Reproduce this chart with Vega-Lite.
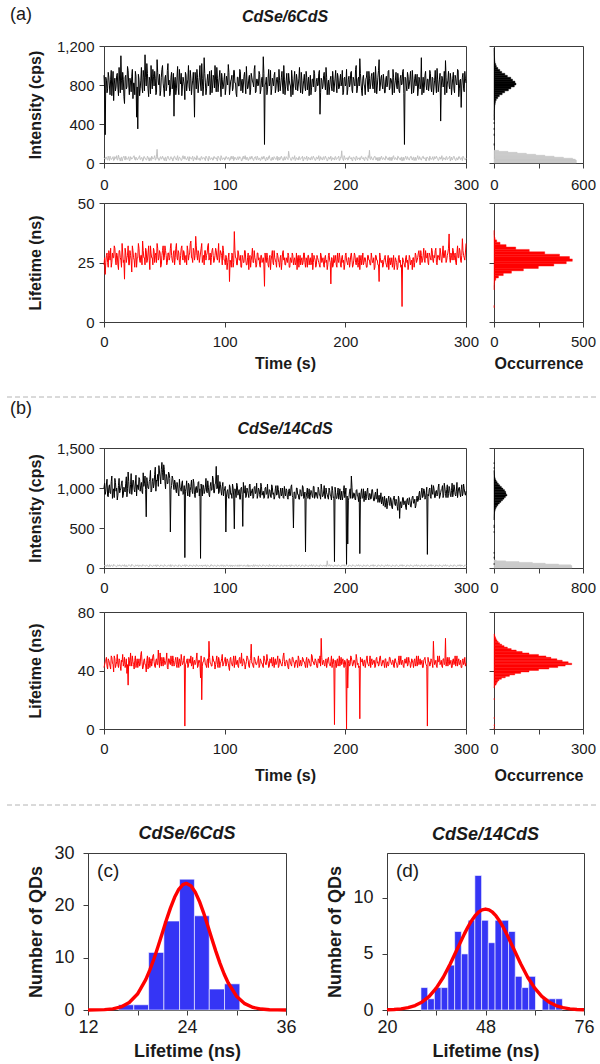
{
"$schema": "https://vega.github.io/schema/vega-lite/v6.json",
"padding": {"left": 5, "top": 5, "right": 5, "bottom": 5},
"background": "white",
"config": {
 "font": "Liberation Sans",
 "view": {"stroke": "#3c3c3c", "strokeWidth": 1},
 "axis": {"grid": false, "labelFont": "Liberation Sans", "labelFontSize": 15, "labelColor": "#1a1a1a", "labelFlush": false, "labelOverlap": false, "tickSize": 5, "tickColor": "#3c3c3c", "domainColor": "#3c3c3c", "titleFont": "Liberation Sans", "titleFontSize": 16, "titleFontWeight": "bold", "titleColor": "#1a1a1a"},
 "axisX": {"labelPadding": 7, "titlePadding": 6},
 "axisY": {"labelPadding": 5},
 "title": {"font": "Liberation Sans", "fontSize": 16, "fontWeight": "bold", "fontStyle": "italic", "color": "#1a1a1a"}
},
"datasets": {
"ts": [
{"t":0,"a":900,"g":55,"l":24,"b":1000,"h":25,"m":42},{"t":1,"a":290,"g":40,"l":20,"b":920,"h":35,"m":46},{"t":2,"a":850,"g":60,"l":28,"b":1050,"h":20,"m":49},{"t":3,"a":760,"g":30,"l":25,"b":900,"h":40,"m":41},{"t":4,"a":880,"g":50,"l":30,"b":1010,"h":28,"m":47},{"t":5,"a":700,"g":70,"l":26,"b":940,"h":15,"m":43},{"t":6,"a":950,"g":35,"l":23,"b":1080,"h":38,"m":50},{"t":7,"a":800,"g":55,"l":29,"b":870,"h":22,"m":45},{"t":8,"a":640,"g":25,"l":27,"b":990,"h":45,"m":39},{"t":9,"a":870,"g":65,"l":31,"b":1120,"h":30,"m":48},
{"t":10,"a":780,"g":45,"l":24,"b":960,"h":18,"m":44},{"t":11,"a":920,"g":30,"l":28,"b":850,"h":33,"m":51},{"t":12,"a":690,"g":80,"l":22,"b":1030,"h":27,"m":42},{"t":13,"a":840,"g":40,"l":30,"b":940,"h":40,"m":47},{"t":14,"a":1100,"g":55,"l":26,"b":1000,"h":20,"m":40},{"t":15,"a":750,"g":20,"l":33,"b":1090,"h":35,"m":46},{"t":16,"a":860,"g":60,"l":25,"b":910,"h":25,"m":43},{"t":17,"a":610,"g":45,"l":18,"b":980,"h":42,"m":49},{"t":18,"a":900,"g":70,"l":29,"b":1060,"h":30,"m":44},{"t":19,"a":780,"g":35,"l":27,"b":890,"h":15,"m":38},
{"t":20,"a":950,"g":50,"l":32,"b":1200,"h":28,"m":30},{"t":21,"a":700,"g":25,"l":24,"b":950,"h":38,"m":47},{"t":22,"a":830,"g":65,"l":28,"b":1040,"h":22,"m":52},{"t":23,"a":890,"g":40,"l":21,"b":920,"h":45,"m":43},{"t":24,"a":660,"g":55,"l":30,"b":1100,"h":30,"m":46},{"t":25,"a":820,"g":75,"l":26,"b":980,"h":20,"m":41},{"t":26,"a":940,"g":30,"l":29,"b":1050,"h":35,"m":50},{"t":27,"a":470,"g":50,"l":23,"b":900,"h":27,"m":45},{"t":28,"a":350,"g":40,"l":27,"b":1010,"h":40,"m":42},{"t":29,"a":860,"g":60,"l":31,"b":1130,"h":18,"m":48},
{"t":30,"a":760,"g":35,"l":25,"b":960,"h":32,"m":44},{"t":31,"a":980,"g":55,"l":28,"b":1070,"h":25,"m":53},{"t":32,"a":720,"g":20,"l":34,"b":930,"h":40,"m":41},{"t":33,"a":880,"g":65,"l":27,"b":1020,"h":30,"m":47},{"t":34,"a":1110,"g":45,"l":24,"b":1150,"h":22,"m":44},{"t":35,"a":790,"g":30,"l":30,"b":640,"h":36,"m":39},{"t":36,"a":920,"g":70,"l":26,"b":1060,"h":28,"m":50},{"t":37,"a":680,"g":40,"l":32,"b":990,"h":15,"m":45},{"t":38,"a":850,"g":55,"l":22,"b":1110,"h":42,"m":42},{"t":39,"a":1000,"g":25,"l":29,"b":950,"h":30,"m":48},
{"t":40,"a":760,"g":60,"l":27,"b":1080,"h":20,"m":46},{"t":41,"a":890,"g":45,"l":31,"b":1000,"h":35,"m":51},{"t":42,"a":940,"g":75,"l":25,"b":1170,"h":27,"m":43},{"t":43,"a":700,"g":35,"l":29,"b":960,"h":40,"m":47},{"t":44,"a":1060,"g":140,"l":33,"b":1090,"h":25,"m":44},{"t":45,"a":830,"g":50,"l":26,"b":1020,"h":33,"m":54},{"t":46,"a":910,"g":30,"l":30,"b":1200,"h":18,"m":42},{"t":47,"a":740,"g":65,"l":23,"b":1050,"h":38,"m":46},{"t":48,"a":960,"g":45,"l":28,"b":1320,"h":28,"m":49},{"t":49,"a":820,"g":55,"l":32,"b":1100,"h":22,"m":43},
{"t":50,"a":680,"g":25,"l":27,"b":1230,"h":40,"m":47},{"t":51,"a":900,"g":60,"l":30,"b":990,"h":30,"m":45},{"t":52,"a":780,"g":40,"l":24,"b":1140,"h":20,"m":52},{"t":53,"a":1020,"g":70,"l":29,"b":1060,"h":35,"m":41},{"t":54,"a":850,"g":35,"l":26,"b":1180,"h":27,"m":48},{"t":55,"a":720,"g":55,"l":31,"b":450,"h":42,"m":44},{"t":56,"a":930,"g":45,"l":28,"b":1030,"h":25,"m":46},{"t":57,"a":810,"g":20,"l":25,"b":1120,"h":32,"m":50},{"t":58,"a":480,"g":65,"l":30,"b":980,"h":18,"m":43},{"t":59,"a":880,"g":50,"l":27,"b":1070,"h":38,"m":47},
{"t":60,"a":760,"g":30,"l":33,"b":940,"h":28,"m":44},{"t":61,"a":990,"g":75,"l":26,"b":1040,"h":22,"m":49},{"t":62,"a":700,"g":40,"l":29,"b":900,"h":40,"m":42},{"t":63,"a":860,"g":55,"l":24,"b":1010,"h":30,"m":46},{"t":64,"a":920,"g":25,"l":31,"b":960,"h":15,"m":51},{"t":65,"a":780,"g":60,"l":27,"b":1090,"h":35,"m":44},{"t":66,"a":840,"g":45,"l":30,"b":930,"h":27,"m":47},{"t":67,"a":650,"g":70,"l":25,"b":130,"h":42,"m":2},{"t":68,"a":900,"g":35,"l":28,"b":1000,"h":25,"m":45},{"t":69,"a":810,"g":50,"l":32,"b":950,"h":33,"m":48},
{"t":70,"a":1000,"g":30,"l":26,"b":1060,"h":20,"m":43},{"t":71,"a":740,"g":65,"l":29,"b":890,"h":38,"m":46},{"t":72,"a":870,"g":45,"l":34,"b":1020,"h":28,"m":50},{"t":73,"a":790,"g":55,"l":27,"b":960,"h":22,"m":44},{"t":74,"a":930,"g":20,"l":31,"b":1110,"h":36,"m":41},{"t":75,"a":470,"g":60,"l":26,"b":920,"h":30,"m":47},{"t":76,"a":850,"g":40,"l":36,"b":1000,"h":18,"m":45},{"t":77,"a":960,"g":75,"l":28,"b":940,"h":40,"m":52},{"t":78,"a":720,"g":35,"l":30,"b":1070,"h":27,"m":43},{"t":79,"a":880,"g":50,"l":25,"b":900,"h":32,"m":47},
{"t":80,"a":800,"g":30,"l":29,"b":120,"h":25,"m":35},{"t":81,"a":1020,"g":65,"l":33,"b":980,"h":38,"m":20},{"t":82,"a":690,"g":45,"l":27,"b":1040,"h":22,"m":46},{"t":83,"a":1080,"g":55,"l":24,"b":930,"h":30,"m":49},{"t":84,"a":830,"g":25,"l":30,"b":1010,"h":40,"m":44},{"t":85,"a":760,"g":60,"l":28,"b":960,"h":15,"m":42},{"t":86,"a":910,"g":40,"l":32,"b":1090,"h":35,"m":48},{"t":87,"a":850,"g":70,"l":26,"b":920,"h":28,"m":60},{"t":88,"a":700,"g":35,"l":29,"b":1020,"h":20,"m":45},{"t":89,"a":950,"g":50,"l":27,"b":970,"h":42,"m":43},
{"t":90,"a":790,"g":30,"l":31,"b":1150,"h":30,"m":50},{"t":91,"a":880,"g":65,"l":25,"b":940,"h":25,"m":46},{"t":92,"a":1000,"g":45,"l":28,"b":1050,"h":35,"m":41},{"t":93,"a":730,"g":55,"l":30,"b":1270,"h":18,"m":47},{"t":94,"a":870,"g":20,"l":26,"b":1000,"h":38,"m":44},{"t":95,"a":810,"g":60,"l":33,"b":930,"h":28,"m":49},{"t":96,"a":950,"g":40,"l":27,"b":1080,"h":22,"m":42},{"t":97,"a":680,"g":75,"l":29,"b":960,"h":40,"m":46},{"t":98,"a":860,"g":35,"l":24,"b":1020,"h":30,"m":51},{"t":99,"a":790,"g":50,"l":30,"b":900,"h":20,"m":44},
{"t":100,"a":920,"g":30,"l":26,"b":990,"h":35,"m":47},{"t":101,"a":760,"g":65,"l":28,"b":450,"h":27,"m":43},{"t":102,"a":850,"g":45,"l":22,"b":960,"h":42,"m":48},{"t":103,"a":1010,"g":55,"l":27,"b":890,"h":25,"m":45},{"t":104,"a":700,"g":25,"l":17,"b":1040,"h":33,"m":40},{"t":105,"a":840,"g":60,"l":25,"b":920,"h":18,"m":49},{"t":106,"a":900,"g":40,"l":29,"b":870,"h":38,"m":44},{"t":107,"a":770,"g":70,"l":23,"b":1000,"h":28,"m":47},{"t":108,"a":950,"g":35,"l":38,"b":490,"h":22,"m":42},{"t":109,"a":820,"g":50,"l":27,"b":950,"h":36,"m":50},
{"t":110,"a":680,"g":30,"l":24,"b":1060,"h":30,"m":46},{"t":111,"a":880,"g":65,"l":30,"b":910,"h":18,"m":43},{"t":112,"a":790,"g":45,"l":26,"b":980,"h":40,"m":48},{"t":113,"a":940,"g":55,"l":28,"b":860,"h":27,"m":45},{"t":114,"a":830,"g":20,"l":23,"b":1010,"h":32,"m":52},{"t":115,"a":720,"g":60,"l":27,"b":520,"h":25,"m":44},{"t":116,"a":890,"g":40,"l":25,"b":940,"h":38,"m":47},{"t":117,"a":810,"g":75,"l":30,"b":1030,"h":22,"m":41},{"t":118,"a":990,"g":35,"l":24,"b":900,"h":30,"m":46},{"t":119,"a":760,"g":50,"l":27,"b":970,"h":40,"m":49},
{"t":120,"a":870,"g":30,"l":22,"b":880,"h":15,"m":43},{"t":121,"a":700,"g":65,"l":28,"b":1050,"h":35,"m":47},{"t":122,"a":920,"g":45,"l":26,"b":930,"h":28,"m":58},{"t":123,"a":840,"g":55,"l":31,"b":990,"h":20,"m":45},{"t":124,"a":780,"g":25,"l":25,"b":890,"h":42,"m":42},{"t":125,"a":1000,"g":60,"l":27,"b":1020,"h":30,"m":48},{"t":126,"a":730,"g":40,"l":23,"b":950,"h":25,"m":44},{"t":127,"a":860,"g":70,"l":29,"b":870,"h":35,"m":46},{"t":128,"a":800,"g":35,"l":26,"b":1000,"h":18,"m":50},{"t":129,"a":910,"g":50,"l":24,"b":920,"h":38,"m":43},
{"t":130,"a":750,"g":30,"l":28,"b":1060,"h":28,"m":47},{"t":131,"a":880,"g":65,"l":25,"b":910,"h":22,"m":45},{"t":132,"a":1090,"g":45,"l":27,"b":960,"h":40,"m":42},{"t":133,"a":190,"g":55,"l":15,"b":880,"h":30,"m":48},{"t":134,"a":820,"g":20,"l":26,"b":1010,"h":20,"m":44},{"t":135,"a":700,"g":60,"l":29,"b":930,"h":35,"m":51},{"t":136,"a":870,"g":40,"l":24,"b":870,"h":27,"m":46},{"t":137,"a":790,"g":75,"l":27,"b":980,"h":42,"m":43},{"t":138,"a":950,"g":35,"l":22,"b":900,"h":25,"m":47},{"t":139,"a":760,"g":50,"l":28,"b":1040,"h":33,"m":49},
{"t":140,"a":840,"g":30,"l":25,"b":920,"h":18,"m":44},{"t":141,"a":900,"g":65,"l":30,"b":860,"h":38,"m":42},{"t":142,"a":720,"g":45,"l":26,"b":990,"h":28,"m":48},{"t":143,"a":860,"g":55,"l":23,"b":910,"h":22,"m":45},{"t":144,"a":810,"g":25,"l":28,"b":1030,"h":36,"m":50},{"t":145,"a":960,"g":60,"l":25,"b":880,"h":30,"m":43},{"t":146,"a":740,"g":40,"l":27,"b":950,"h":18,"m":47},{"t":147,"a":880,"g":70,"l":22,"b":900,"h":40,"m":44},{"t":148,"a":790,"g":35,"l":29,"b":1000,"h":27,"m":46},{"t":149,"a":1000,"g":50,"l":26,"b":870,"h":32,"m":52},
{"t":150,"a":700,"g":30,"l":24,"b":940,"h":25,"m":43},{"t":151,"a":850,"g":65,"l":27,"b":990,"h":38,"m":47},{"t":152,"a":770,"g":45,"l":25,"b":880,"h":22,"m":45},{"t":153,"a":920,"g":120,"l":28,"b":960,"h":30,"m":41},{"t":154,"a":810,"g":55,"l":23,"b":900,"h":40,"m":48},{"t":155,"a":680,"g":25,"l":26,"b":1020,"h":20,"m":44},{"t":156,"a":870,"g":60,"l":29,"b":910,"h":35,"m":49},{"t":157,"a":790,"g":40,"l":24,"b":500,"h":28,"m":46},{"t":158,"a":940,"g":75,"l":27,"b":950,"h":22,"m":42},{"t":159,"a":750,"g":35,"l":25,"b":870,"h":42,"m":47},
{"t":160,"a":860,"g":50,"l":22,"b":1000,"h":30,"m":45},{"t":161,"a":800,"g":30,"l":28,"b":920,"h":25,"m":50},{"t":162,"a":980,"g":65,"l":26,"b":860,"h":35,"m":43},{"t":163,"a":720,"g":45,"l":24,"b":970,"h":18,"m":47},{"t":164,"a":850,"g":55,"l":27,"b":900,"h":38,"m":44},{"t":165,"a":780,"g":20,"l":25,"b":1010,"h":28,"m":48},{"t":166,"a":910,"g":60,"l":29,"b":880,"h":22,"m":46},{"t":167,"a":740,"g":40,"l":23,"b":200,"h":40,"m":42},{"t":168,"a":880,"g":70,"l":26,"b":940,"h":30,"m":49},{"t":169,"a":820,"g":35,"l":28,"b":870,"h":20,"m":45},
{"t":170,"a":690,"g":50,"l":24,"b":990,"h":35,"m":47},{"t":171,"a":900,"g":30,"l":27,"b":910,"h":27,"m":43},{"t":172,"a":770,"g":65,"l":25,"b":960,"h":42,"m":51},{"t":173,"a":860,"g":45,"l":22,"b":880,"h":25,"m":46},{"t":174,"a":950,"g":55,"l":28,"b":1020,"h":33,"m":44},{"t":175,"a":730,"g":25,"l":26,"b":900,"h":18,"m":48},{"t":176,"a":840,"g":60,"l":24,"b":940,"h":38,"m":45},{"t":177,"a":790,"g":40,"l":27,"b":870,"h":28,"m":42},{"t":178,"a":920,"g":75,"l":25,"b":980,"h":22,"m":47},{"t":179,"a":500,"g":35,"l":23,"b":910,"h":40,"m":50},
{"t":180,"a":870,"g":50,"l":28,"b":1050,"h":30,"m":62},{"t":181,"a":760,"g":30,"l":26,"b":890,"h":25,"m":44},{"t":182,"a":900,"g":65,"l":24,"b":950,"h":35,"m":47},{"t":183,"a":810,"g":45,"l":27,"b":870,"h":20,"m":43},{"t":184,"a":980,"g":55,"l":25,"b":1000,"h":38,"m":48},{"t":185,"a":700,"g":20,"l":22,"b":920,"h":90,"m":45},{"t":186,"a":850,"g":60,"l":28,"b":860,"h":27,"m":49},{"t":187,"a":780,"g":40,"l":26,"b":970,"h":42,"m":44},{"t":188,"a":890,"g":70,"l":16,"b":900,"h":25,"m":46},{"t":189,"a":740,"g":35,"l":27,"b":1020,"h":32,"m":42},
{"t":190,"a":860,"g":50,"l":24,"b":880,"h":18,"m":48},{"t":191,"a":800,"g":30,"l":25,"b":80,"h":38,"m":3},{"t":192,"a":950,"g":65,"l":28,"b":940,"h":28,"m":45},{"t":193,"a":720,"g":45,"l":23,"b":870,"h":22,"m":47},{"t":194,"a":880,"g":55,"l":26,"b":1000,"h":40,"m":43},{"t":195,"a":770,"g":25,"l":29,"b":910,"h":30,"m":50},{"t":196,"a":910,"g":60,"l":24,"b":850,"h":20,"m":46},{"t":197,"a":830,"g":125,"l":27,"b":960,"h":35,"m":44},{"t":198,"a":700,"g":40,"l":25,"b":890,"h":27,"m":48},{"t":199,"a":870,"g":75,"l":22,"b":1030,"h":42,"m":42},
{"t":200,"a":790,"g":35,"l":28,"b":920,"h":25,"m":46},{"t":201,"a":960,"g":50,"l":26,"b":45,"h":33,"m":0},{"t":202,"a":750,"g":30,"l":24,"b":300,"h":18,"m":28},{"t":203,"a":890,"g":65,"l":27,"b":880,"h":38,"m":47},{"t":204,"a":810,"g":45,"l":25,"b":990,"h":28,"m":44},{"t":205,"a":940,"g":55,"l":29,"b":1150,"h":22,"m":49},{"t":206,"a":720,"g":20,"l":23,"b":870,"h":40,"m":43},{"t":207,"a":860,"g":60,"l":26,"b":940,"h":30,"m":47},{"t":208,"a":790,"g":40,"l":28,"b":860,"h":20,"m":45},{"t":209,"a":1000,"g":70,"l":24,"b":970,"h":35,"m":51},
{"t":210,"a":760,"g":35,"l":27,"b":900,"h":27,"m":44},{"t":211,"a":880,"g":50,"l":25,"b":830,"h":42,"m":42},{"t":212,"a":1070,"g":30,"l":22,"b":180,"h":25,"m":7},{"t":213,"a":820,"g":65,"l":28,"b":940,"h":32,"m":46},{"t":214,"a":690,"g":45,"l":26,"b":870,"h":18,"m":48},{"t":215,"a":900,"g":55,"l":24,"b":990,"h":38,"m":43},{"t":216,"a":780,"g":25,"l":27,"b":910,"h":28,"m":47},{"t":217,"a":860,"g":60,"l":25,"b":850,"h":22,"m":45},{"t":218,"a":940,"g":40,"l":23,"b":960,"h":40,"m":50},{"t":219,"a":730,"g":75,"l":28,"b":880,"h":30,"m":44},
{"t":220,"a":870,"g":130,"l":26,"b":930,"h":20,"m":46},{"t":221,"a":800,"g":35,"l":24,"b":860,"h":35,"m":42},{"t":222,"a":920,"g":50,"l":27,"b":980,"h":27,"m":48},{"t":223,"a":760,"g":30,"l":25,"b":900,"h":42,"m":45},{"t":224,"a":850,"g":65,"l":22,"b":840,"h":25,"m":47},{"t":225,"a":990,"g":45,"l":28,"b":950,"h":33,"m":43},{"t":226,"a":710,"g":55,"l":26,"b":870,"h":18,"m":49},{"t":227,"a":880,"g":20,"l":24,"b":820,"h":38,"m":46},{"t":228,"a":1060,"g":60,"l":17,"b":910,"h":28,"m":44},{"t":229,"a":790,"g":40,"l":27,"b":860,"h":22,"m":50},
{"t":230,"a":900,"g":70,"l":25,"b":800,"h":40,"m":43},{"t":231,"a":760,"g":35,"l":23,"b":890,"h":30,"m":47},{"t":232,"a":840,"g":50,"l":26,"b":830,"h":20,"m":45},{"t":233,"a":720,"g":30,"l":28,"b":760,"h":35,"m":48},{"t":234,"a":890,"g":65,"l":24,"b":870,"h":27,"m":42},{"t":235,"a":810,"g":45,"l":26,"b":810,"h":42,"m":46},{"t":236,"a":950,"g":55,"l":22,"b":900,"h":25,"m":44},{"t":237,"a":770,"g":25,"l":27,"b":780,"h":33,"m":49},{"t":238,"a":860,"g":60,"l":25,"b":850,"h":18,"m":45},{"t":239,"a":700,"g":40,"l":23,"b":740,"h":38,"m":47},
{"t":240,"a":880,"g":75,"l":28,"b":880,"h":28,"m":43},{"t":241,"a":800,"g":35,"l":24,"b":800,"h":22,"m":48},{"t":242,"a":930,"g":50,"l":26,"b":860,"h":40,"m":45},{"t":243,"a":760,"g":30,"l":22,"b":770,"h":30,"m":42},{"t":244,"a":850,"g":65,"l":27,"b":900,"h":20,"m":47},{"t":245,"a":720,"g":45,"l":25,"b":620,"h":35,"m":44},{"t":246,"a":900,"g":55,"l":23,"b":830,"h":27,"m":50},{"t":247,"a":810,"g":20,"l":6.5,"b":790,"h":42,"m":46},{"t":248,"a":960,"g":60,"l":26,"b":880,"h":25,"m":43},{"t":249,"a":190,"g":40,"l":24,"b":810,"h":33,"m":47},
{"t":250,"a":870,"g":70,"l":27,"b":760,"h":18,"m":45},{"t":251,"a":740,"g":35,"l":25,"b":850,"h":38,"m":49},{"t":252,"a":890,"g":50,"l":22,"b":800,"h":28,"m":44},{"t":253,"a":800,"g":30,"l":28,"b":880,"h":22,"m":46},{"t":254,"a":940,"g":65,"l":24,"b":770,"h":40,"m":42},{"t":255,"a":710,"g":45,"l":26,"b":840,"h":30,"m":48},{"t":256,"a":860,"g":55,"l":27,"b":900,"h":20,"m":45},{"t":257,"a":780,"g":25,"l":23,"b":810,"h":35,"m":47},{"t":258,"a":910,"g":60,"l":29,"b":750,"h":27,"m":43},{"t":259,"a":830,"g":40,"l":25,"b":870,"h":42,"m":50},
{"t":260,"a":690,"g":75,"l":27,"b":830,"h":25,"m":46},{"t":261,"a":880,"g":35,"l":30,"b":920,"h":33,"m":44},{"t":262,"a":760,"g":50,"l":24,"b":850,"h":18,"m":48},{"t":263,"a":1080,"g":30,"l":28,"b":950,"h":38,"m":45},{"t":264,"a":810,"g":65,"l":26,"b":880,"h":28,"m":42},{"t":265,"a":720,"g":45,"l":31,"b":990,"h":22,"m":47},{"t":266,"a":900,"g":55,"l":25,"b":860,"h":40,"m":49},{"t":267,"a":790,"g":20,"l":27,"b":940,"h":30,"m":44},{"t":268,"a":860,"g":60,"l":29,"b":170,"h":20,"m":2},{"t":269,"a":740,"g":40,"l":24,"b":900,"h":35,"m":46},
{"t":270,"a":950,"g":70,"l":28,"b":1000,"h":27,"m":43},{"t":271,"a":770,"g":35,"l":26,"b":870,"h":42,"m":48},{"t":272,"a":880,"g":50,"l":30,"b":950,"h":25,"m":45},{"t":273,"a":700,"g":30,"l":25,"b":1030,"h":33,"m":60},{"t":274,"a":850,"g":65,"l":27,"b":880,"h":18,"m":44},{"t":275,"a":800,"g":45,"l":31,"b":960,"h":38,"m":47},{"t":276,"a":970,"g":55,"l":24,"b":900,"h":28,"m":42},{"t":277,"a":730,"g":25,"l":28,"b":1010,"h":22,"m":46},{"t":278,"a":860,"g":60,"l":26,"b":870,"h":40,"m":50},{"t":279,"a":430,"g":40,"l":29,"b":940,"h":30,"m":45},
{"t":280,"a":890,"g":75,"l":25,"b":990,"h":20,"m":43},{"t":281,"a":780,"g":35,"l":32,"b":880,"h":35,"m":48},{"t":282,"a":940,"g":50,"l":27,"b":1060,"h":27,"m":44},{"t":283,"a":1050,"g":30,"l":30,"b":930,"h":42,"m":62},{"t":284,"a":720,"g":65,"l":26,"b":980,"h":25,"m":46},{"t":285,"a":850,"g":45,"l":29,"b":880,"h":33,"m":43},{"t":286,"a":790,"g":55,"l":37,"b":1020,"h":18,"m":49},{"t":287,"a":920,"g":20,"l":25,"b":910,"h":38,"m":45},{"t":288,"a":700,"g":60,"l":28,"b":970,"h":28,"m":42},{"t":289,"a":870,"g":40,"l":31,"b":890,"h":22,"m":47},
{"t":290,"a":760,"g":70,"l":26,"b":1040,"h":40,"m":44},{"t":291,"a":900,"g":35,"l":29,"b":920,"h":30,"m":50},{"t":292,"a":810,"g":50,"l":24,"b":960,"h":20,"m":46},{"t":293,"a":960,"g":30,"l":32,"b":880,"h":35,"m":43},{"t":294,"a":680,"g":65,"l":27,"b":1000,"h":27,"m":48},{"t":295,"a":850,"g":45,"l":30,"b":930,"h":42,"m":45},{"t":296,"a":570,"g":55,"l":25,"b":980,"h":25,"m":42},{"t":297,"a":880,"g":25,"l":35,"b":900,"h":33,"m":47},{"t":298,"a":760,"g":60,"l":28,"b":1050,"h":18,"m":44},{"t":299,"a":940,"g":40,"l":26,"b":940,"h":38,"m":49},
{"t":300,"a":820,"g":50,"l":33,"b":960,"h":28,"m":45},
{"t":0.5,"a":760,"g":45,"l":27,"b":1060,"h":30,"m":44},{"t":1.5,"a":880,"g":60,"l":25,"b":960,"h":22,"m":47},{"t":2.5,"a":720,"g":35,"l":29,"b":1110,"h":38,"m":43},{"t":3.5,"a":930,"g":70,"l":23,"b":890,"h":18,"m":48},{"t":4.5,"a":790,"g":25,"l":28,"b":1040,"h":42,"m":45},{"t":5.5,"a":860,"g":55,"l":31,"b":930,"h":26,"m":41},{"t":6.5,"a":690,"g":40,"l":25,"b":1150,"h":33,"m":49},{"t":7.5,"a":940,"g":65,"l":27,"b":960,"h":20,"m":44},{"t":8.5,"a":810,"g":30,"l":32,"b":880,"h":36,"m":50},{"t":9.5,"a":740,"g":50,"l":26,"b":1070,"h":28,"m":42},
{"t":10.5,"a":900,"g":75,"l":29,"b":1000,"h":15,"m":46},{"t":11.5,"a":770,"g":35,"l":24,"b":910,"h":40,"m":44},{"t":12.5,"a":980,"g":55,"l":30,"b":1120,"h":25,"m":48},{"t":13.5,"a":720,"g":20,"l":27,"b":970,"h":33,"m":43},{"t":14.5,"a":850,"g":60,"l":23,"b":1060,"h":21,"m":47},{"t":15.5,"a":930,"g":45,"l":29,"b":880,"h":38,"m":51},{"t":16.5,"a":680,"g":70,"l":26,"b":1010,"h":27,"m":45},{"t":17.5,"a":880,"g":30,"l":31,"b":950,"h":17,"m":42},{"t":18.5,"a":760,"g":50,"l":25,"b":1140,"h":35,"m":48},{"t":19.5,"a":990,"g":40,"l":28,"b":990,"h":24,"m":44},
{"t":20.5,"a":800,"g":65,"l":24,"b":1080,"h":41,"m":49},{"t":21.5,"a":870,"g":25,"l":30,"b":930,"h":29,"m":43},{"t":22.5,"a":730,"g":55,"l":26,"b":1180,"h":20,"m":46},{"t":23.5,"a":960,"g":45,"l":32,"b":1000,"h":37,"m":50},{"t":24.5,"a":820,"g":70,"l":27,"b":1090,"h":26,"m":44},{"t":25.5,"a":700,"g":35,"l":23,"b":950,"h":16,"m":47},{"t":26.5,"a":890,"g":60,"l":29,"b":1160,"h":39,"m":42},{"t":27.5,"a":780,"g":30,"l":27,"b":1040,"h":28,"m":48},{"t":28.5,"a":910,"g":50,"l":33,"b":980,"h":22,"m":45},{"t":29.5,"a":690,"g":75,"l":26,"b":1110,"h":34,"m":43},
{"t":30.5,"a":850,"g":40,"l":28,"b":1030,"h":27,"m":51},{"t":31.5,"a":780,"g":55,"l":24,"b":950,"h":19,"m":46},{"t":32.5,"a":950,"g":25,"l":30,"b":1190,"h":40,"m":42},{"t":33.5,"a":740,"g":65,"l":27,"b":1060,"h":30,"m":48},{"t":34.5,"a":880,"g":45,"l":31,"b":980,"h":23,"m":44},{"t":35.5,"a":1020,"g":35,"l":25,"b":1130,"h":36,"m":47},{"t":36.5,"a":760,"g":60,"l":29,"b":1000,"h":25,"m":41},{"t":37.5,"a":880,"g":20,"l":26,"b":1080,"h":18,"m":49},{"t":38.5,"a":710,"g":50,"l":32,"b":1220,"h":38,"m":45},{"t":39.5,"a":840,"g":70,"l":27,"b":970,"h":28,"m":43},
{"t":40.5,"a":960,"g":40,"l":24,"b":1120,"h":21,"m":50},{"t":41.5,"a":790,"g":55,"l":30,"b":1050,"h":35,"m":46},{"t":42.5,"a":870,"g":30,"l":28,"b":1260,"h":26,"m":42},{"t":43.5,"a":720,"g":65,"l":25,"b":1100,"h":17,"m":48},{"t":44.5,"a":930,"g":45,"l":31,"b":1170,"h":40,"m":44},{"t":45.5,"a":800,"g":25,"l":27,"b":1280,"h":29,"m":47},{"t":46.5,"a":690,"g":60,"l":29,"b":1140,"h":22,"m":52},{"t":47.5,"a":880,"g":40,"l":24,"b":1230,"h":37,"m":43},{"t":48.5,"a":1000,"g":70,"l":30,"b":1190,"h":27,"m":46},{"t":49.5,"a":760,"g":35,"l":26,"b":1290,"h":18,"m":49},
{"t":50.5,"a":870,"g":55,"l":32,"b":1080,"h":39,"m":44},{"t":51.5,"a":740,"g":20,"l":28,"b":1170,"h":28,"m":47},{"t":52.5,"a":950,"g":60,"l":25,"b":1050,"h":23,"m":42},{"t":53.5,"a":800,"g":45,"l":29,"b":1200,"h":34,"m":48},{"t":54.5,"a":690,"g":30,"l":27,"b":1120,"h":26,"m":45},{"t":55.5,"a":880,"g":65,"l":33,"b":980,"h":16,"m":50},{"t":56.5,"a":760,"g":50,"l":26,"b":1150,"h":40,"m":43},{"t":57.5,"a":920,"g":35,"l":29,"b":1040,"h":29,"m":47},{"t":58.5,"a":830,"g":70,"l":24,"b":1100,"h":21,"m":44},{"t":59.5,"a":700,"g":40,"l":31,"b":980,"h":36,"m":49},
{"t":60.5,"a":880,"g":55,"l":27,"b":1070,"h":25,"m":42},{"t":61.5,"a":770,"g":25,"l":30,"b":940,"h":18,"m":46},{"t":62.5,"a":960,"g":60,"l":25,"b":1110,"h":38,"m":48},{"t":63.5,"a":810,"g":45,"l":28,"b":990,"h":27,"m":43},{"t":64.5,"a":690,"g":30,"l":32,"b":1060,"h":22,"m":47},{"t":65.5,"a":880,"g":75,"l":26,"b":920,"h":35,"m":45},{"t":66.5,"a":790,"g":40,"l":29,"b":1030,"h":28,"m":50},{"t":67.5,"a":930,"g":55,"l":27,"b":960,"h":17,"m":44},{"t":68.5,"a":740,"g":35,"l":24,"b":1090,"h":39,"m":47},{"t":69.5,"a":860,"g":65,"l":30,"b":900,"h":26,"m":42},
{"t":70.5,"a":780,"g":20,"l":28,"b":1040,"h":21,"m":48},{"t":71.5,"a":950,"g":50,"l":33,"b":970,"h":37,"m":45},{"t":72.5,"a":700,"g":40,"l":27,"b":1100,"h":29,"m":43},{"t":73.5,"a":850,"g":70,"l":25,"b":930,"h":19,"m":49},{"t":74.5,"a":790,"g":35,"l":30,"b":1060,"h":36,"m":46},{"t":75.5,"a":930,"g":55,"l":28,"b":880,"h":25,"m":44},{"t":76.5,"a":760,"g":30,"l":32,"b":1020,"h":40,"m":48},{"t":77.5,"a":880,"g":60,"l":26,"b":950,"h":28,"m":42},{"t":78.5,"a":810,"g":45,"l":29,"b":1080,"h":20,"m":47},{"t":79.5,"a":1000,"g":25,"l":27,"b":990,"h":34,"m":45},
{"t":80.5,"a":740,"g":65,"l":31,"b":1050,"h":26,"m":50},{"t":81.5,"a":870,"g":40,"l":25,"b":900,"h":18,"m":43},{"t":82.5,"a":780,"g":55,"l":28,"b":1030,"h":38,"m":46},{"t":83.5,"a":920,"g":35,"l":30,"b":960,"h":27,"m":48},{"t":84.5,"a":700,"g":70,"l":26,"b":1120,"h":22,"m":44},{"t":85.5,"a":850,"g":45,"l":29,"b":940,"h":35,"m":47},{"t":86.5,"a":790,"g":20,"l":33,"b":1010,"h":29,"m":42},{"t":87.5,"a":940,"g":60,"l":27,"b":890,"h":17,"m":49},{"t":88.5,"a":820,"g":40,"l":24,"b":1070,"h":39,"m":45},{"t":89.5,"a":720,"g":55,"l":30,"b":980,"h":26,"m":43},
{"t":90.5,"a":900,"g":30,"l":28,"b":1110,"h":21,"m":48},{"t":91.5,"a":770,"g":65,"l":26,"b":940,"h":36,"m":46},{"t":92.5,"a":850,"g":50,"l":31,"b":1060,"h":28,"m":44},{"t":93.5,"a":980,"g":35,"l":27,"b":990,"h":19,"m":50},{"t":94.5,"a":730,"g":70,"l":29,"b":1160,"h":37,"m":42},{"t":95.5,"a":880,"g":45,"l":25,"b":950,"h":25,"m":47},{"t":96.5,"a":790,"g":25,"l":30,"b":1040,"h":32,"m":45},{"t":97.5,"a":920,"g":60,"l":28,"b":910,"h":22,"m":48},{"t":98.5,"a":760,"g":40,"l":32,"b":1070,"h":40,"m":43},{"t":99.5,"a":860,"g":55,"l":26,"b":960,"h":27,"m":46},
{"t":100.5,"a":700,"g":35,"l":24,"b":1020,"h":18,"m":49},{"t":101.5,"a":890,"g":65,"l":27,"b":900,"h":35,"m":44},{"t":102.5,"a":800,"g":40,"l":25,"b":980,"h":28,"m":47},{"t":103.5,"a":930,"g":55,"l":29,"b":870,"h":21,"m":42},{"t":104.5,"a":770,"g":30,"l":26,"b":1010,"h":38,"m":48},{"t":105.5,"a":860,"g":70,"l":23,"b":930,"h":26,"m":45},{"t":106.5,"a":740,"g":45,"l":28,"b":1050,"h":17,"m":43},{"t":107.5,"a":950,"g":25,"l":25,"b":900,"h":37,"m":50},{"t":108.5,"a":820,"g":60,"l":30,"b":990,"h":29,"m":46},{"t":109.5,"a":710,"g":40,"l":27,"b":880,"h":22,"m":44},
{"t":110.5,"a":880,"g":55,"l":24,"b":1030,"h":36,"m":47},{"t":111.5,"a":790,"g":35,"l":29,"b":950,"h":27,"m":42},{"t":112.5,"a":960,"g":65,"l":26,"b":860,"h":20,"m":49},{"t":113.5,"a":740,"g":45,"l":23,"b":1000,"h":39,"m":45},{"t":114.5,"a":860,"g":30,"l":28,"b":920,"h":28,"m":43},{"t":115.5,"a":800,"g":70,"l":25,"b":1070,"h":23,"m":48},{"t":116.5,"a":930,"g":50,"l":30,"b":940,"h":34,"m":46},{"t":117.5,"a":710,"g":35,"l":26,"b":880,"h":26,"m":44},{"t":118.5,"a":850,"g":60,"l":24,"b":1000,"h":19,"m":50},{"t":119.5,"a":780,"g":25,"l":29,"b":930,"h":38,"m":47},
{"t":120.5,"a":900,"g":55,"l":27,"b":1040,"h":28,"m":42},{"t":121.5,"a":750,"g":40,"l":23,"b":900,"h":22,"m":48},{"t":122.5,"a":880,"g":70,"l":28,"b":970,"h":35,"m":45},{"t":123.5,"a":820,"g":35,"l":25,"b":870,"h":27,"m":43},{"t":124.5,"a":960,"g":50,"l":30,"b":1010,"h":18,"m":49},{"t":125.5,"a":720,"g":65,"l":26,"b":930,"h":40,"m":46},{"t":126.5,"a":860,"g":30,"l":24,"b":1060,"h":29,"m":44},{"t":127.5,"a":790,"g":55,"l":29,"b":910,"h":21,"m":47},{"t":128.5,"a":940,"g":45,"l":27,"b":980,"h":36,"m":42},{"t":129.5,"a":710,"g":25,"l":23,"b":880,"h":27,"m":48},
{"t":130.5,"a":850,"g":60,"l":28,"b":1020,"h":20,"m":45},{"t":131.5,"a":780,"g":40,"l":26,"b":940,"h":38,"m":43},{"t":132.5,"a":920,"g":70,"l":24,"b":870,"h":28,"m":50},{"t":133.5,"a":800,"g":35,"l":29,"b":1000,"h":23,"m":46},{"t":134.5,"a":880,"g":55,"l":25,"b":920,"h":35,"m":44},{"t":135.5,"a":750,"g":30,"l":27,"b":1050,"h":26,"m":47},{"t":136.5,"a":960,"g":65,"l":23,"b":900,"h":18,"m":42},{"t":137.5,"a":820,"g":45,"l":28,"b":970,"h":39,"m":48},{"t":138.5,"a":700,"g":25,"l":26,"b":880,"h":28,"m":45},{"t":139.5,"a":870,"g":60,"l":30,"b":1010,"h":22,"m":43},
{"t":140.5,"a":790,"g":40,"l":24,"b":940,"h":36,"m":49},{"t":141.5,"a":930,"g":55,"l":27,"b":890,"h":27,"m":46},{"t":142.5,"a":760,"g":35,"l":25,"b":1030,"h":19,"m":44},{"t":143.5,"a":880,"g":70,"l":29,"b":920,"h":38,"m":47},{"t":144.5,"a":730,"g":45,"l":26,"b":980,"h":28,"m":42},{"t":145.5,"a":850,"g":30,"l":23,"b":870,"h":22,"m":48},{"t":146.5,"a":800,"g":60,"l":28,"b":1000,"h":35,"m":45},{"t":147.5,"a":940,"g":50,"l":25,"b":930,"h":27,"m":43},{"t":148.5,"a":710,"g":25,"l":30,"b":880,"h":18,"m":50},{"t":149.5,"a":860,"g":65,"l":27,"b":1020,"h":37,"m":46},
{"t":150.5,"a":780,"g":40,"l":24,"b":900,"h":29,"m":44},{"t":151.5,"a":920,"g":55,"l":26,"b":970,"h":21,"m":47},{"t":152.5,"a":740,"g":35,"l":29,"b":860,"h":36,"m":42},{"t":153.5,"a":850,"g":70,"l":23,"b":990,"h":27,"m":48},{"t":154.5,"a":790,"g":45,"l":27,"b":910,"h":20,"m":45},{"t":155.5,"a":950,"g":30,"l":25,"b":1040,"h":39,"m":43},{"t":156.5,"a":700,"g":60,"l":28,"b":880,"h":28,"m":49},{"t":157.5,"a":860,"g":45,"l":26,"b":950,"h":23,"m":46},{"t":158.5,"a":780,"g":25,"l":24,"b":870,"h":34,"m":44},{"t":159.5,"a":910,"g":55,"l":29,"b":1000,"h":26,"m":47},
{"t":160.5,"a":740,"g":40,"l":27,"b":920,"h":18,"m":42},{"t":161.5,"a":870,"g":65,"l":23,"b":860,"h":38,"m":48},{"t":162.5,"a":800,"g":35,"l":28,"b":980,"h":28,"m":45},{"t":163.5,"a":930,"g":50,"l":26,"b":900,"h":22,"m":43},{"t":164.5,"a":710,"g":70,"l":24,"b":1030,"h":35,"m":49},{"t":165.5,"a":850,"g":30,"l":29,"b":870,"h":27,"m":46},{"t":166.5,"a":780,"g":55,"l":25,"b":950,"h":19,"m":44},{"t":167.5,"a":940,"g":45,"l":27,"b":880,"h":37,"m":47},{"t":168.5,"a":750,"g":25,"l":23,"b":1000,"h":29,"m":42},{"t":169.5,"a":880,"g":60,"l":28,"b":920,"h":21,"m":48},
{"t":170.5,"a":810,"g":40,"l":26,"b":860,"h":36,"m":45},{"t":171.5,"a":700,"g":55,"l":24,"b":970,"h":28,"m":43},{"t":172.5,"a":860,"g":35,"l":29,"b":900,"h":20,"m":50},{"t":173.5,"a":780,"g":70,"l":25,"b":1020,"h":39,"m":46},{"t":174.5,"a":920,"g":45,"l":27,"b":870,"h":27,"m":44},{"t":175.5,"a":740,"g":30,"l":23,"b":950,"h":22,"m":47},{"t":176.5,"a":870,"g":60,"l":28,"b":890,"h":35,"m":42},{"t":177.5,"a":800,"g":50,"l":26,"b":1010,"h":26,"m":48},{"t":178.5,"a":950,"g":25,"l":24,"b":910,"h":18,"m":45},{"t":179.5,"a":720,"g":65,"l":29,"b":860,"h":38,"m":43},
{"t":180.5,"a":850,"g":40,"l":25,"b":980,"h":28,"m":49},{"t":181.5,"a":790,"g":55,"l":27,"b":900,"h":23,"m":46},{"t":182.5,"a":930,"g":35,"l":23,"b":1030,"h":34,"m":44},{"t":183.5,"a":750,"g":70,"l":28,"b":870,"h":26,"m":47},{"t":184.5,"a":880,"g":45,"l":26,"b":940,"h":19,"m":42},{"t":185.5,"a":810,"g":30,"l":24,"b":880,"h":37,"m":48},{"t":186.5,"a":700,"g":60,"l":29,"b":1000,"h":28,"m":45},{"t":187.5,"a":860,"g":45,"l":25,"b":910,"h":21,"m":43},{"t":188.5,"a":780,"g":25,"l":27,"b":850,"h":36,"m":50},{"t":189.5,"a":940,"g":55,"l":23,"b":970,"h":27,"m":46},
{"t":190.5,"a":730,"g":40,"l":28,"b":890,"h":20,"m":44},{"t":191.5,"a":870,"g":65,"l":26,"b":1010,"h":39,"m":47},{"t":192.5,"a":800,"g":35,"l":24,"b":870,"h":29,"m":42},{"t":193.5,"a":920,"g":50,"l":29,"b":940,"h":22,"m":48},{"t":194.5,"a":760,"g":70,"l":25,"b":860,"h":35,"m":45},{"t":195.5,"a":850,"g":30,"l":27,"b":990,"h":26,"m":43},{"t":196.5,"a":790,"g":55,"l":23,"b":900,"h":18,"m":49},{"t":197.5,"a":950,"g":45,"l":28,"b":850,"h":38,"m":46},{"t":198.5,"a":720,"g":25,"l":26,"b":970,"h":28,"m":44},{"t":199.5,"a":880,"g":60,"l":24,"b":880,"h":23,"m":47},
{"t":200.5,"a":810,"g":40,"l":29,"b":1000,"h":34,"m":42},{"t":201.5,"a":700,"g":55,"l":25,"b":900,"h":26,"m":48},{"t":202.5,"a":860,"g":35,"l":27,"b":840,"h":19,"m":45},{"t":203.5,"a":780,"g":70,"l":23,"b":960,"h":37,"m":43},{"t":204.5,"a":930,"g":45,"l":28,"b":870,"h":28,"m":50},{"t":205.5,"a":750,"g":30,"l":26,"b":1010,"h":21,"m":46},{"t":206.5,"a":880,"g":60,"l":24,"b":880,"h":36,"m":44},{"t":207.5,"a":800,"g":50,"l":29,"b":930,"h":27,"m":47},{"t":208.5,"a":960,"g":25,"l":25,"b":850,"h":20,"m":42},{"t":209.5,"a":720,"g":65,"l":27,"b":980,"h":39,"m":48},
{"t":210.5,"a":860,"g":40,"l":23,"b":890,"h":29,"m":45},{"t":211.5,"a":790,"g":55,"l":28,"b":940,"h":22,"m":43},{"t":212.5,"a":920,"g":35,"l":26,"b":860,"h":35,"m":49},{"t":213.5,"a":740,"g":70,"l":24,"b":990,"h":26,"m":46},{"t":214.5,"a":870,"g":45,"l":29,"b":880,"h":18,"m":44},{"t":215.5,"a":810,"g":30,"l":25,"b":830,"h":38,"m":47},{"t":216.5,"a":700,"g":60,"l":27,"b":960,"h":28,"m":42},{"t":217.5,"a":880,"g":45,"l":23,"b":890,"h":23,"m":48},{"t":218.5,"a":780,"g":25,"l":28,"b":1000,"h":34,"m":45},{"t":219.5,"a":940,"g":55,"l":26,"b":850,"h":26,"m":43},
{"t":220.5,"a":760,"g":40,"l":24,"b":930,"h":19,"m":50},{"t":221.5,"a":890,"g":65,"l":29,"b":870,"h":37,"m":46},{"t":222.5,"a":800,"g":35,"l":25,"b":980,"h":28,"m":44},{"t":223.5,"a":930,"g":50,"l":27,"b":840,"h":21,"m":47},{"t":224.5,"a":720,"g":70,"l":23,"b":920,"h":36,"m":42},{"t":225.5,"a":860,"g":30,"l":28,"b":860,"h":27,"m":48},{"t":226.5,"a":790,"g":55,"l":26,"b":990,"h":20,"m":45},{"t":227.5,"a":950,"g":45,"l":24,"b":880,"h":39,"m":43},{"t":228.5,"a":740,"g":25,"l":29,"b":820,"h":29,"m":49},{"t":229.5,"a":870,"g":60,"l":25,"b":940,"h":22,"m":46},
{"t":230.5,"a":800,"g":40,"l":26,"b":840,"h":35,"m":44},{"t":231.5,"a":910,"g":55,"l":24,"b":780,"h":26,"m":47},{"t":232.5,"a":720,"g":35,"l":27,"b":900,"h":18,"m":42},{"t":233.5,"a":860,"g":70,"l":25,"b":820,"h":38,"m":48},{"t":234.5,"a":780,"g":45,"l":23,"b":740,"h":28,"m":45},{"t":235.5,"a":940,"g":30,"l":28,"b":860,"h":23,"m":43},{"t":236.5,"a":750,"g":60,"l":26,"b":790,"h":34,"m":49},{"t":237.5,"a":870,"g":50,"l":24,"b":880,"h":26,"m":46},{"t":238.5,"a":810,"g":25,"l":27,"b":760,"h":19,"m":44},{"t":239.5,"a":960,"g":65,"l":25,"b":840,"h":37,"m":47},
{"t":240.5,"a":720,"g":40,"l":22,"b":900,"h":28,"m":42},{"t":241.5,"a":850,"g":55,"l":27,"b":780,"h":21,"m":48},{"t":242.5,"a":790,"g":35,"l":25,"b":830,"h":36,"m":45},{"t":243.5,"a":920,"g":70,"l":23,"b":720,"h":27,"m":43},{"t":244.5,"a":740,"g":45,"l":28,"b":860,"h":20,"m":50},{"t":245.5,"a":870,"g":30,"l":26,"b":800,"h":39,"m":46},{"t":246.5,"a":800,"g":60,"l":24,"b":750,"h":29,"m":44},{"t":247.5,"a":940,"g":45,"l":27,"b":880,"h":22,"m":47},{"t":248.5,"a":710,"g":25,"l":25,"b":790,"h":35,"m":42},{"t":249.5,"a":880,"g":55,"l":23,"b":840,"h":26,"m":48},
{"t":250.5,"a":790,"g":40,"l":28,"b":730,"h":18,"m":45},{"t":251.5,"a":930,"g":65,"l":26,"b":870,"h":38,"m":43},{"t":252.5,"a":760,"g":35,"l":24,"b":790,"h":28,"m":49},{"t":253.5,"a":860,"g":50,"l":27,"b":850,"h":23,"m":46},{"t":254.5,"a":810,"g":70,"l":25,"b":760,"h":34,"m":44},{"t":255.5,"a":950,"g":30,"l":22,"b":890,"h":26,"m":47},{"t":256.5,"a":720,"g":60,"l":27,"b":810,"h":19,"m":42},{"t":257.5,"a":870,"g":45,"l":25,"b":860,"h":37,"m":48},{"t":258.5,"a":790,"g":25,"l":28,"b":780,"h":28,"m":45},{"t":259.5,"a":910,"g":55,"l":26,"b":900,"h":22,"m":43},
{"t":260.5,"a":760,"g":40,"l":29,"b":850,"h":35,"m":50},{"t":261.5,"a":860,"g":65,"l":27,"b":960,"h":27,"m":46},{"t":262.5,"a":800,"g":35,"l":30,"b":880,"h":20,"m":44},{"t":263.5,"a":700,"g":50,"l":25,"b":1000,"h":39,"m":47},{"t":264.5,"a":880,"g":70,"l":28,"b":900,"h":29,"m":42},{"t":265.5,"a":790,"g":45,"l":26,"b":970,"h":22,"m":48},{"t":266.5,"a":940,"g":30,"l":30,"b":880,"h":36,"m":45},{"t":267.5,"a":750,"g":60,"l":27,"b":1010,"h":27,"m":43},{"t":268.5,"a":860,"g":50,"l":25,"b":920,"h":18,"m":49},{"t":269.5,"a":800,"g":25,"l":29,"b":980,"h":38,"m":46},
{"t":270.5,"a":920,"g":55,"l":27,"b":890,"h":28,"m":44},{"t":271.5,"a":730,"g":40,"l":31,"b":1040,"h":23,"m":47},{"t":272.5,"a":870,"g":65,"l":26,"b":920,"h":34,"m":42},{"t":273.5,"a":780,"g":35,"l":28,"b":990,"h":26,"m":48},{"t":274.5,"a":950,"g":50,"l":30,"b":880,"h":19,"m":45},{"t":275.5,"a":720,"g":70,"l":25,"b":970,"h":37,"m":43},{"t":276.5,"a":860,"g":45,"l":28,"b":920,"h":28,"m":50},{"t":277.5,"a":800,"g":30,"l":27,"b":1050,"h":22,"m":46},{"t":278.5,"a":920,"g":60,"l":31,"b":900,"h":35,"m":44},{"t":279.5,"a":760,"g":45,"l":26,"b":980,"h":26,"m":47},
{"t":280.5,"a":870,"g":25,"l":29,"b":1030,"h":18,"m":42},{"t":281.5,"a":790,"g":55,"l":27,"b":910,"h":38,"m":48},{"t":282.5,"a":700,"g":40,"l":30,"b":1000,"h":28,"m":45},{"t":283.5,"a":880,"g":65,"l":25,"b":880,"h":23,"m":43},{"t":284.5,"a":810,"g":35,"l":28,"b":1040,"h":34,"m":49},{"t":285.5,"a":940,"g":50,"l":31,"b":930,"h":26,"m":46},{"t":286.5,"a":760,"g":70,"l":27,"b":990,"h":19,"m":44},{"t":287.5,"a":860,"g":45,"l":29,"b":890,"h":37,"m":47},{"t":288.5,"a":790,"g":30,"l":26,"b":1060,"h":28,"m":42},{"t":289.5,"a":930,"g":60,"l":30,"b":940,"h":22,"m":48},
{"t":290.5,"a":720,"g":50,"l":28,"b":1000,"h":35,"m":45},{"t":291.5,"a":870,"g":25,"l":25,"b":900,"h":27,"m":43},{"t":292.5,"a":800,"g":55,"l":29,"b":1070,"h":20,"m":50},{"t":293.5,"a":950,"g":40,"l":27,"b":950,"h":39,"m":46},{"t":294.5,"a":760,"g":65,"l":31,"b":1010,"h":29,"m":44},{"t":295.5,"a":860,"g":35,"l":26,"b":890,"h":22,"m":47},{"t":296.5,"a":790,"g":50,"l":28,"b":1040,"h":36,"m":42},{"t":297.5,"a":920,"g":70,"l":30,"b":930,"h":27,"m":48},{"t":298.5,"a":730,"g":45,"l":27,"b":990,"h":20,"m":45},{"t":299.5,"a":870,"g":30,"l":29,"b":910,"h":38,"m":43}
],
"hGA": [{"lo":0,"hi":10,"n":555},{"lo":10,"hi":20,"n":555},{"lo":20,"hi":30,"n":555},{"lo":30,"hi":40,"n":548},{"lo":40,"hi":50,"n":530},{"lo":50,"hi":60,"n":468},{"lo":60,"hi":70,"n":405},{"lo":70,"hi":80,"n":343},{"lo":80,"hi":90,"n":281},{"lo":90,"hi":100,"n":218},{"lo":100,"hi":110,"n":156},{"lo":110,"hi":120,"n":94},{"lo":120,"hi":130,"n":31}],
"hIA": [{"lo":180,"hi":200,"n":1},{"lo":280,"hi":300,"n":1},{"lo":340,"hi":360,"n":1},{"lo":400,"hi":420,"n":1},{"lo":440,"hi":460,"n":1},{"lo":460,"hi":480,"n":2},{"lo":480,"hi":500,"n":1},{"lo":500,"hi":520,"n":2},{"lo":520,"hi":540,"n":2},{"lo":540,"hi":560,"n":3},{"lo":560,"hi":580,"n":4},{"lo":580,"hi":600,"n":5},{"lo":600,"hi":620,"n":8},{"lo":620,"hi":640,"n":10},{"lo":640,"hi":660,"n":15},{"lo":660,"hi":680,"n":25},{"lo":680,"hi":700,"n":36},{"lo":700,"hi":720,"n":55},{"lo":720,"hi":740,"n":72},{"lo":740,"hi":760,"n":97},{"lo":760,"hi":780,"n":114},{"lo":780,"hi":800,"n":137},{"lo":800,"hi":820,"n":148},{"lo":820,"hi":840,"n":141},{"lo":840,"hi":860,"n":125},{"lo":860,"hi":880,"n":113},{"lo":880,"hi":900,"n":90},{"lo":900,"hi":920,"n":73},{"lo":920,"hi":940,"n":52},{"lo":940,"hi":960,"n":39},{"lo":960,"hi":980,"n":26},{"lo":980,"hi":1000,"n":16},{"lo":1000,"hi":1020,"n":12},{"lo":1020,"hi":1040,"n":7},{"lo":1040,"hi":1060,"n":5},{"lo":1060,"hi":1080,"n":4},{"lo":1080,"hi":1100,"n":3},{"lo":1100,"hi":1120,"n":2},{"lo":1120,"hi":1140,"n":2},{"lo":1140,"hi":1160,"n":1},{"lo":1160,"hi":1180,"n":1}],
"hLA": [{"lo":6,"hi":7,"n":1},{"lo":13.5,"hi":14.5,"n":1},{"lo":14.5,"hi":15.5,"n":1},{"lo":15.5,"hi":16.5,"n":2},{"lo":16.5,"hi":17.5,"n":4},{"lo":17.5,"hi":18.5,"n":10},{"lo":18.5,"hi":19.5,"n":25},{"lo":19.5,"hi":20.5,"n":52},{"lo":20.5,"hi":21.5,"n":98},{"lo":21.5,"hi":22.5,"n":165},{"lo":22.5,"hi":23.5,"n":249},{"lo":23.5,"hi":24.5,"n":336},{"lo":24.5,"hi":25.5,"n":406},{"lo":25.5,"hi":26.5,"n":440},{"lo":26.5,"hi":27.5,"n":424},{"lo":27.5,"hi":28.5,"n":368},{"lo":28.5,"hi":29.5,"n":285},{"lo":29.5,"hi":30.5,"n":198},{"lo":30.5,"hi":31.5,"n":122},{"lo":31.5,"hi":32.5,"n":68},{"lo":32.5,"hi":33.5,"n":34},{"lo":33.5,"hi":34.5,"n":15},{"lo":34.5,"hi":35.5,"n":6},{"lo":35.5,"hi":36.5,"n":2},{"lo":36.5,"hi":37.5,"n":1},{"lo":37.5,"hi":38.5,"n":1}],
"hGB": [{"lo":0,"hi":10,"n":700},{"lo":10,"hi":20,"n":700},{"lo":20,"hi":30,"n":700},{"lo":30,"hi":40,"n":690},{"lo":40,"hi":50,"n":580},{"lo":50,"hi":60,"n":460},{"lo":60,"hi":70,"n":345},{"lo":70,"hi":80,"n":225},{"lo":80,"hi":90,"n":105},{"lo":90,"hi":100,"n":20}],
"hIB": [{"lo":40,"hi":60,"n":1},{"lo":120,"hi":140,"n":1},{"lo":180,"hi":200,"n":1},{"lo":440,"hi":460,"n":1},{"lo":500,"hi":520,"n":1},{"lo":520,"hi":540,"n":1},{"lo":600,"hi":620,"n":1},{"lo":620,"hi":640,"n":1},{"lo":640,"hi":660,"n":2},{"lo":660,"hi":680,"n":3},{"lo":680,"hi":700,"n":5},{"lo":700,"hi":720,"n":7},{"lo":720,"hi":740,"n":11},{"lo":740,"hi":760,"n":17},{"lo":760,"hi":780,"n":25},{"lo":780,"hi":800,"n":35},{"lo":800,"hi":820,"n":48},{"lo":820,"hi":840,"n":62},{"lo":840,"hi":860,"n":76},{"lo":860,"hi":880,"n":90},{"lo":880,"hi":900,"n":102},{"lo":900,"hi":920,"n":116},{"lo":920,"hi":940,"n":108},{"lo":940,"hi":960,"n":104},{"lo":960,"hi":980,"n":94},{"lo":980,"hi":1000,"n":80},{"lo":1000,"hi":1020,"n":66},{"lo":1020,"hi":1040,"n":52},{"lo":1040,"hi":1060,"n":39},{"lo":1060,"hi":1080,"n":28},{"lo":1080,"hi":1100,"n":19},{"lo":1100,"hi":1120,"n":12},{"lo":1120,"hi":1140,"n":8},{"lo":1140,"hi":1160,"n":5},{"lo":1160,"hi":1180,"n":3},{"lo":1180,"hi":1200,"n":2},{"lo":1200,"hi":1220,"n":1},{"lo":1240,"hi":1260,"n":1},{"lo":1300,"hi":1320,"n":1}],
"hLB": [{"lo":0,"hi":1,"n":1},{"lo":2,"hi":3,"n":2},{"lo":7,"hi":8,"n":1},{"lo":20,"hi":21,"n":1},{"lo":28,"hi":29,"n":1},{"lo":29,"hi":30,"n":2},{"lo":30,"hi":31,"n":7},{"lo":31,"hi":32,"n":9},{"lo":32,"hi":33,"n":12},{"lo":33,"hi":34,"n":17},{"lo":34,"hi":35,"n":25},{"lo":35,"hi":36,"n":38},{"lo":36,"hi":37,"n":52},{"lo":37,"hi":38,"n":70},{"lo":38,"hi":39,"n":90},{"lo":39,"hi":40,"n":118},{"lo":40,"hi":41,"n":150},{"lo":41,"hi":42,"n":185},{"lo":42,"hi":43,"n":215},{"lo":43,"hi":44,"n":240},{"lo":44,"hi":45,"n":262},{"lo":45,"hi":46,"n":250},{"lo":46,"hi":47,"n":230},{"lo":47,"hi":48,"n":212},{"lo":48,"hi":49,"n":192},{"lo":49,"hi":50,"n":175},{"lo":50,"hi":51,"n":150},{"lo":51,"hi":52,"n":118},{"lo":52,"hi":53,"n":95},{"lo":53,"hi":54,"n":75},{"lo":54,"hi":55,"n":58},{"lo":55,"hi":56,"n":45},{"lo":56,"hi":57,"n":34},{"lo":57,"hi":58,"n":26},{"lo":58,"hi":59,"n":19},{"lo":59,"hi":60,"n":14},{"lo":60,"hi":61,"n":10},{"lo":61,"hi":62,"n":7},{"lo":62,"hi":63,"n":5},{"lo":63,"hi":64,"n":3},{"lo":64,"hi":65,"n":2}],
"bc": [{"lo":15.7,"hi":17.55,"n":1},{"lo":17.55,"hi":19.35,"n":1},{"lo":19.35,"hi":21.2,"n":11},{"lo":21.2,"hi":23.1,"n":17},{"lo":23.1,"hi":24.9,"n":25},{"lo":24.9,"hi":26.7,"n":18},{"lo":26.7,"hi":28.55,"n":4},{"lo":28.55,"hi":30.4,"n":5}],
"fc": [{"x":12,"y":0.005},{"x":13,"y":0.02},{"x":14,"y":0.07},{"x":15,"y":0.22},{"x":16,"y":0.59},{"x":17,"y":1.43},{"x":18,"y":3.05},{"x":19,"y":5.81},{"x":19.5,"y":7.66},{"x":20,"y":9.8},{"x":20.5,"y":12.17},{"x":21,"y":14.68},{"x":21.5,"y":17.18},{"x":22,"y":19.52},{"x":22.5,"y":21.54},{"x":23,"y":23.06},{"x":23.5,"y":23.97},{"x":23.9,"y":24.2},{"x":24.5,"y":23.69},{"x":25,"y":22.52},{"x":25.5,"y":20.79},{"x":26,"y":18.62},{"x":26.5,"y":16.19},{"x":27,"y":13.67},{"x":27.5,"y":11.2},{"x":28,"y":8.91},{"x":28.5,"y":6.88},{"x":29,"y":5.16},{"x":30,"y":2.65},{"x":31,"y":1.21},{"x":32,"y":0.49},{"x":33,"y":0.18},{"x":34,"y":0.06},{"x":35,"y":0.02},{"x":36,"y":0}],
"bd": [{"lo":29.65,"hi":31.57,"n":2},{"lo":31.57,"hi":33.48,"n":1},{"lo":33.48,"hi":35.4,"n":2},{"lo":35.4,"hi":37.31,"n":2},{"lo":37.31,"hi":39.23,"n":4},{"lo":39.23,"hi":41.14,"n":7},{"lo":41.14,"hi":43.06,"n":5},{"lo":43.06,"hi":44.97,"n":8},{"lo":44.97,"hi":46.89,"n":12},{"lo":46.89,"hi":48.8,"n":8},{"lo":48.8,"hi":50.72,"n":6},{"lo":50.72,"hi":52.63,"n":8},{"lo":52.63,"hi":54.55,"n":8},{"lo":54.55,"hi":56.46,"n":7},{"lo":56.46,"hi":58.38,"n":3},{"lo":58.38,"hi":60.29,"n":2},{"lo":60.29,"hi":62.21,"n":3},{"lo":64.12,"hi":66.04,"n":1},{"lo":66.04,"hi":67.95,"n":1},{"lo":67.95,"hi":69.87,"n":1}],
"fd": [{"x":20,"y":0.02},{"x":22,"y":0.05},{"x":24,"y":0.1},{"x":26,"y":0.21},{"x":28,"y":0.4},{"x":30,"y":0.72},{"x":32,"y":1.22},{"x":34,"y":1.95},{"x":36,"y":2.92},{"x":38,"y":4.12},{"x":40,"y":5.46},{"x":42,"y":6.79},{"x":43,"y":7.4},{"x":44,"y":7.94},{"x":45,"y":8.39},{"x":46,"y":8.72},{"x":47,"y":8.93},{"x":48,"y":9.0},{"x":49,"y":8.93},{"x":50,"y":8.72},{"x":51,"y":8.39},{"x":52,"y":7.94},{"x":53,"y":7.4},{"x":54,"y":6.79},{"x":56,"y":5.46},{"x":58,"y":4.12},{"x":60,"y":2.92},{"x":62,"y":1.95},{"x":64,"y":1.22},{"x":66,"y":0.72},{"x":68,"y":0.4},{"x":70,"y":0.21},{"x":72,"y":0.1},{"x":74,"y":0.05},{"x":76,"y":0.02}]
},
"vconcat": [
 {
  "title": {"text": "(a)", "anchor": "start", "frame": "bounds", "dx": 4, "offset": -15, "fontStyle": "normal", "fontWeight": "normal", "fontSize": 18},
  "spacing": 19,
  "hconcat": [
   {"width": 1, "height": 1, "data": {"values": []}, "mark": "point", "encoding": {}, "view": {"stroke": null}},
   {"spacing": 8, "hconcat": [
    {"width": 362, "height": 117, "title": {"text": "CdSe/6CdS", "offset": 14},
     "data": {"name": "ts"},
     "transform": [{"fold": ["g", "a"], "as": ["k", "v"]}],
     "mark": {"type": "line", "strokeWidth": 1.0, "strokeJoin": "round"},
     "encoding": {
      "x": {"field": "t", "type": "quantitative", "title": null, "scale": {"domain": [0, 300], "nice": false}, "axis": {"values": [0, 100, 200, 300], "labelPadding": 9}},
      "y": {"field": "v", "type": "quantitative", "title": "Intensity (cps)", "scale": {"domain": [0, 1200], "nice": false}, "axis": {"values": [0, 400, 800, 1200], "format": ",.0f", "labelOverlap": false, "minExtent": 48, "maxExtent": 48, "titlePadding": 13}},
      "color": {"field": "k", "type": "nominal", "scale": {"domain": ["g", "a"], "range": ["#c0c0c0", "#000000"]}, "legend": null}
     }},
    {"width": 89, "height": 117,
     "layer": [
      {"data": {"name": "hGA"}, "mark": {"type": "rect", "color": "#c8c8c8", "stroke": "#c8c8c8", "strokeWidth": 0.4}, "encoding": {"y": {"field": "lo", "type": "quantitative", "title": null, "scale": {"domain": [0, 1200], "nice": false}, "axis": {"values": [0, 400, 800, 1200], "labels": false}}, "y2": {"field": "hi"}, "x": {"field": "n", "type": "quantitative", "title": null, "scale": {"domain": [0, 600], "nice": false}, "axis": {"values": [0, 300, 600], "labelPadding": 9, "labelExpr": "datum.value == 300 ? '' : datum.label"}}, "x2": {"datum": 0}}},
      {"data": {"name": "hIA"}, "mark": {"type": "rect", "color": "#000000", "stroke": "#000000", "strokeWidth": 0.4}, "encoding": {"y": {"field": "lo", "type": "quantitative", "title": null}, "y2": {"field": "hi"}, "x": {"field": "n", "type": "quantitative", "title": null}, "x2": {"datum": 0}}}
     ]}
   ]}
  ]
 },
 {"spacing": 24, "vconcat": [
  {"spacing": 19, "hconcat": [
   {"width": 1, "height": 1, "data": {"values": []}, "mark": "point", "encoding": {}, "view": {"stroke": null}},
   {"spacing": 8, "hconcat": [
    {"width": 362, "height": 119,
     "data": {"name": "ts"},
     "mark": {"type": "line", "color": "#ff0000", "strokeWidth": 1.0, "strokeJoin": "round"},
     "encoding": {
      "x": {"field": "t", "type": "quantitative", "title": "Time (s)", "scale": {"domain": [0, 300], "nice": false}, "axis": {"values": [0, 100, 200, 300]}},
      "y": {"field": "l", "type": "quantitative", "title": "Lifetime (ns)", "scale": {"domain": [0, 50], "nice": false}, "axis": {"values": [0, 25, 50], "minExtent": 48, "maxExtent": 48, "titlePadding": 13}}
     }},
    {"width": 89, "height": 119,
     "data": {"name": "hLA"},
     "mark": {"type": "rect", "color": "#ff0000", "stroke": "#ff0000", "strokeWidth": 0.4},
     "encoding": {"y": {"field": "lo", "type": "quantitative", "title": null, "scale": {"domain": [0, 50], "nice": false}, "axis": {"values": [0, 25, 50], "labels": false}}, "y2": {"field": "hi"}, "x": {"field": "n", "type": "quantitative", "title": "Occurrence", "scale": {"domain": [0, 500], "nice": false}, "axis": {"values": [0, 250, 500], "labelExpr": "datum.value == 250 ? '' : datum.label"}}, "x2": {"datum": 0}}}
   ]}
  ]},
  {"spacing": 1, "vconcat": [
   {"width": 590, "height": 1, "data": {"values": [{}]}, "mark": {"type": "rule", "color": "#b4b4b4", "strokeDash": [5, 3], "strokeWidth": 1}, "encoding": {"y": {"datum": 0, "type": "quantitative", "scale": {"domain": [0, 1]}, "axis": null}}, "view": {"stroke": null}},
   {"spacing": 8, "vconcat": [
    {
     "title": {"text": "(b)", "anchor": "start", "frame": "bounds", "dx": 4, "offset": 3, "fontStyle": "normal", "fontWeight": "normal", "fontSize": 18},
     "spacing": 19,
     "hconcat": [
      {"width": 1, "height": 1, "data": {"values": []}, "mark": "point", "encoding": {}, "view": {"stroke": null}},
      {"spacing": 8, "hconcat": [
       {"width": 362, "height": 120, "title": {"text": "CdSe/14CdS", "offset": 4},
        "data": {"name": "ts"},
        "transform": [{"fold": ["h", "b"], "as": ["k", "v"]}],
        "mark": {"type": "line", "strokeWidth": 1.0, "strokeJoin": "round"},
        "encoding": {
         "x": {"field": "t", "type": "quantitative", "title": null, "scale": {"domain": [0, 300], "nice": false}, "axis": {"values": [0, 100, 200, 300]}},
         "y": {"field": "v", "type": "quantitative", "title": "Intensity (cps)", "scale": {"domain": [0, 1500], "nice": false}, "axis": {"values": [0, 500, 1000, 1500], "format": ",.0f", "labelOverlap": false, "minExtent": 48, "maxExtent": 48, "titlePadding": 13}},
         "color": {"field": "k", "type": "nominal", "scale": {"domain": ["h", "b"], "range": ["#c0c0c0", "#000000"]}, "legend": null}
        }},
       {"width": 89, "height": 120,
        "layer": [
         {"data": {"name": "hGB"}, "mark": {"type": "rect", "color": "#c8c8c8", "stroke": "#c8c8c8", "strokeWidth": 0.4}, "encoding": {"y": {"field": "lo", "type": "quantitative", "title": null, "scale": {"domain": [0, 1500], "nice": false}, "axis": {"values": [0, 500, 1000, 1500], "labels": false}}, "y2": {"field": "hi"}, "x": {"field": "n", "type": "quantitative", "title": null, "scale": {"domain": [0, 800], "nice": false}, "axis": {"values": [0, 400, 800], "labelExpr": "datum.value == 400 ? '' : datum.label"}}, "x2": {"datum": 0}}},
         {"data": {"name": "hIB"}, "mark": {"type": "rect", "color": "#000000", "stroke": "#000000", "strokeWidth": 0.4}, "encoding": {"y": {"field": "lo", "type": "quantitative", "title": null}, "y2": {"field": "hi"}, "x": {"field": "n", "type": "quantitative", "title": null}, "x2": {"datum": 0}}}
        ]}
      ]}
     ]
    },
    {"spacing": 20, "vconcat": [
     {"spacing": 19, "hconcat": [
      {"width": 1, "height": 1, "data": {"values": []}, "mark": "point", "encoding": {}, "view": {"stroke": null}},
      {"spacing": 8, "hconcat": [
       {"width": 362, "height": 117,
        "data": {"name": "ts"},
        "mark": {"type": "line", "color": "#ff0000", "strokeWidth": 1.0, "strokeJoin": "round"},
        "encoding": {
         "x": {"field": "t", "type": "quantitative", "title": "Time (s)", "scale": {"domain": [0, 300], "nice": false}, "axis": {"values": [0, 100, 200, 300], "titlePadding": 11}},
         "y": {"field": "m", "type": "quantitative", "title": "Lifetime (ns)", "scale": {"domain": [0, 80], "nice": false}, "axis": {"values": [0, 40, 80], "minExtent": 48, "maxExtent": 48, "titlePadding": 13}}
        }},
       {"width": 89, "height": 117,
        "data": {"name": "hLB"},
        "mark": {"type": "rect", "color": "#ff0000", "stroke": "#ff0000", "strokeWidth": 0.4},
        "encoding": {"y": {"field": "lo", "type": "quantitative", "title": null, "scale": {"domain": [0, 80], "nice": false}, "axis": {"values": [0, 40, 80], "labels": false}}, "y2": {"field": "hi"}, "x": {"field": "n", "type": "quantitative", "title": "Occurrence", "scale": {"domain": [0, 300], "nice": false}, "axis": {"values": [0, 150, 300], "labelExpr": "datum.value == 150 ? '' : datum.label", "titlePadding": 11}}, "x2": {"datum": 0}}}
      ]}
     ]},
     {"spacing": 18, "vconcat": [
      {"width": 590, "height": 1, "data": {"values": [{}]}, "mark": {"type": "rule", "color": "#b4b4b4", "strokeDash": [5, 3], "strokeWidth": 1}, "encoding": {"y": {"datum": 0, "type": "quantitative", "scale": {"domain": [0, 1]}, "axis": null}}, "view": {"stroke": null}},
      {"spacing": 19, "hconcat": [
       {"width": 1, "height": 1, "data": {"values": []}, "mark": "point", "encoding": {}, "view": {"stroke": null}},
       {"spacing": 28, "hconcat": [
        {"width": 198, "height": 157, "title": {"text": "CdSe/6CdS", "offset": 1, "fontSize": 18},
         "layer": [
          {"data": {"name": "bc"}, "mark": {"type": "rect", "color": "#3535f5", "stroke": "#ffffff", "strokeWidth": 0.6},
           "encoding": {"x": {"field": "lo", "type": "quantitative", "title": "Lifetime (ns)", "scale": {"domain": [12, 36], "nice": false}, "axis": {"values": [12, 18, 24, 30, 36], "labelExpr": "datum.value % 12 == 0 ? datum.label : ''", "labelFontSize": 18, "titleFontSize": 18, "labelPadding": 3, "titlePadding": 6}}, "x2": {"field": "hi"}, "y": {"field": "n", "type": "quantitative", "title": "Number of QDs", "scale": {"domain": [0, 30], "nice": false}, "axis": {"values": [0, 10, 20, 30], "labelFontSize": 18, "titleFontSize": 18, "labelPadding": 9, "minExtent": 34, "maxExtent": 34, "titlePadding": 9}}, "y2": {"datum": 0}}},
          {"data": {"name": "fc"}, "mark": {"type": "line", "color": "#ff0000", "strokeWidth": 3.4, "strokeJoin": "round"}, "encoding": {"x": {"field": "x", "type": "quantitative", "title": "Lifetime (ns)"}, "y": {"field": "y", "type": "quantitative", "title": "Number of QDs"}}},
          {"data": {"values": [{}]}, "mark": {"type": "text", "fontSize": 19, "align": "left", "baseline": "middle", "font": "Liberation Sans", "color": "#1a1a1a"}, "encoding": {"x": {"datum": 13.1}, "y": {"datum": 26.6}, "text": {"value": "(c)"}}}
         ]},
        {"width": 197, "height": 157, "title": {"text": "CdSe/14CdS", "offset": 9, "fontSize": 18},
         "layer": [
          {"data": {"name": "bd"}, "mark": {"type": "rect", "color": "#3535f5", "stroke": "#ffffff", "strokeWidth": 0.6},
           "encoding": {"x": {"field": "lo", "type": "quantitative", "title": "Lifetime (ns)", "scale": {"domain": [20, 76], "nice": false}, "axis": {"values": [20, 34, 48, 62, 76], "labelExpr": "(datum.value - 20) % 28 == 0 ? datum.label : ''", "labelFontSize": 18, "titleFontSize": 18, "labelPadding": 3, "titlePadding": 6}}, "x2": {"field": "hi"}, "y": {"field": "n", "type": "quantitative", "title": "Number of QDs", "scale": {"domain": [0, 14], "nice": false}, "axis": {"values": [0, 5, 10], "labelFontSize": 18, "titleFontSize": 18, "labelPadding": 9, "minExtent": 34, "maxExtent": 34, "titlePadding": 9}}, "y2": {"datum": 0}}},
          {"data": {"name": "fd"}, "mark": {"type": "line", "color": "#ff0000", "strokeWidth": 3.4, "strokeJoin": "round"}, "encoding": {"x": {"field": "x", "type": "quantitative", "title": "Lifetime (ns)"}, "y": {"field": "y", "type": "quantitative", "title": "Number of QDs"}}},
          {"data": {"values": [{}]}, "mark": {"type": "text", "fontSize": 19, "align": "left", "baseline": "middle", "font": "Liberation Sans", "color": "#1a1a1a"}, "encoding": {"x": {"datum": 22.55}, "y": {"datum": 12.4}, "text": {"value": "(d)"}}}
         ]}
       ]}
      ]}
     ]}
    ]}
   ]}
  ]}
 ]}
],
"spacing": 2
}
